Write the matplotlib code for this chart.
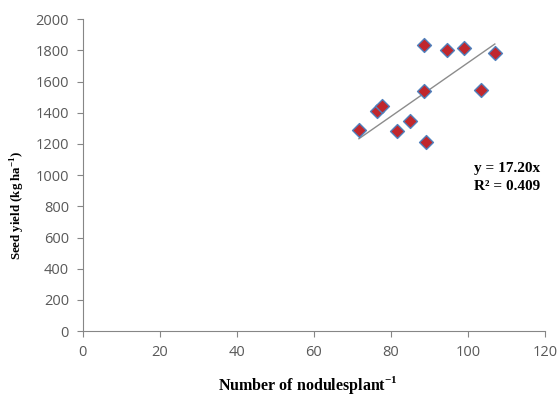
import numpy as np
import matplotlib.pyplot as plt

plt.rcParams['mathtext.fontset'] = 'custom'
plt.rcParams['mathtext.rm'] = 'Liberation Serif'
plt.rcParams['mathtext.bf'] = 'Liberation Serif:bold'

nodules = [71.7, 76.4, 77.8, 81.7, 84.9, 88.7, 88.7, 89.0, 94.7, 99.0, 103.4, 107.0]
yield_ = [1288, 1412, 1444, 1282, 1348, 1831, 1540, 1212, 1799, 1816, 1545, 1784]
slope = 17.20
r2 = 0.409

fig = plt.figure(figsize=(5.6, 3.98), dpi=100)
ax = fig.add_axes([0.148, 0.168, 0.825, 0.784])

xt = np.array([min(nodules), max(nodules)])
ax.plot(xt, slope * xt, color='#8c8c8c', lw=1.0, zorder=2)
ax.scatter(nodules, yield_, marker='D', s=50, facecolor='#c0272d',
           edgecolor='#4f81bd', linewidth=1.0, zorder=3)

ax.set_xlim(0, 120)
ax.set_ylim(0, 2000)
ax.set_xticks(range(0, 121, 20))
ax.set_yticks(range(0, 2001, 200))
for s in ['top', 'right']:
    ax.spines[s].set_visible(False)
for s in ['left', 'bottom']:
    ax.spines[s].set_color('#868686')
ax.tick_params(colors='#868686', labelcolor='#595959', labelsize=10.5, length=4, pad=6)
for lab in ax.get_xticklabels() + ax.get_yticklabels():
    lab.set_family('Open Sans')

ax.set_xlabel('Number of nodulesplant$^{\\mathbf{-1}}$', family='Liberation Serif',
              weight='bold', fontsize=11.5)
ax.set_ylabel('Seed yield (kg ha$^{\\mathbf{-1}}$)', family='Liberation Serif',
              weight='bold', fontsize=9.3)
ax.xaxis.set_label_coords(0.487, -0.138)
ax.yaxis.set_label_coords(-0.122, 0.404)

ax.text(0.846, 0.592, 'y = 17.20x\nR² = 0.409', transform=fig.transFigure,
        family='Liberation Serif', weight='bold', fontsize=11, va='top',
        linespacing=1.45)

fig.savefig('out.png', dpi=100)
